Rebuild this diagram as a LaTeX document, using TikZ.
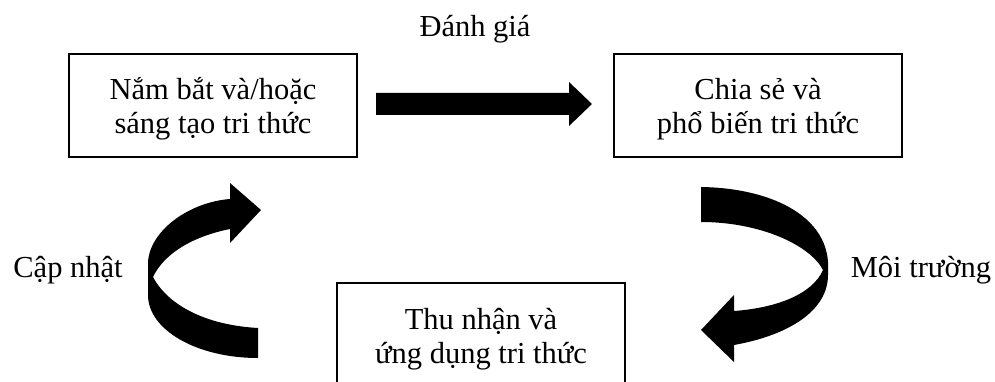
\documentclass[tikz,border=0pt]{standalone}
\usepackage{fontspec}
\setmainfont{Liberation Serif}
\usepackage{tikz}
\newcommand{\boxlines}[2]{\raisebox{-28.5pt}[0pt][0pt]{\begin{tabular}[b]{@{}c@{}}#1\\#2\end{tabular}}}

\begin{document}
\begin{tikzpicture}[x=1pt,y=-1pt,
    box/.style={draw,line width=2pt,minimum width=288pt,minimum height=103pt,
        inner sep=0pt,font=\fontsize{30.5}{34}\selectfont},
    lbl/.style={anchor=base,font=\fontsize{30.5}{34}\selectfont},
    fatarrow/.style={fill=black}]
    \useasboundingbox (0,0) rectangle (995,382);
    \node [box] (capture) at (213,105.5) {\boxlines{Nắm bắt và/hoặc}{sáng tạo tri thức}};
    \node [box] (share) at (758,105.5) {\boxlines{Chia sẻ và}{phổ biến tri thức}};
    \node [box] (apply) at (481,334.5) {\boxlines{Thu nhận và}{ứng dụng tri thức}};
    \node [lbl] (eval) at (475,37) {Đánh giá};
    \node [lbl] (update) at (68,277) {Cập nhật};
    \node [lbl] (env) at (921,277) {Môi trường};
    \fill [fatarrow] (376,93) -- (569,93) -- (569,82) -- (592,104)
        -- (569,126) -- (569,115) -- (376,115) -- cycle;
    \fill [fatarrow] (734,295) -- (701,330) -- (734,362) -- (734,345)
        .. controls (790,335) and (828,310) .. (828,275) -- (828,262)
        .. controls (825,215) and (770,188) .. (701,187) -- (701,222)
        .. controls (760,222) and (810,245) .. (823,270)
        .. controls (812,295) and (775,308) .. (734,311) -- cycle;
    \fill [fatarrow] (230,183) -- (261,210) -- (230,243) -- (230,229)
        .. controls (195,236) and (165,252) .. (153,277)
        .. controls (168,305) and (205,325) .. (258,328) -- (258,358)
        .. controls (197,358) and (148,330) .. (148,295) -- (148,262)
        .. controls (150,230) and (190,202) .. (230,199) -- cycle;
\end{tikzpicture}
\end{document}
